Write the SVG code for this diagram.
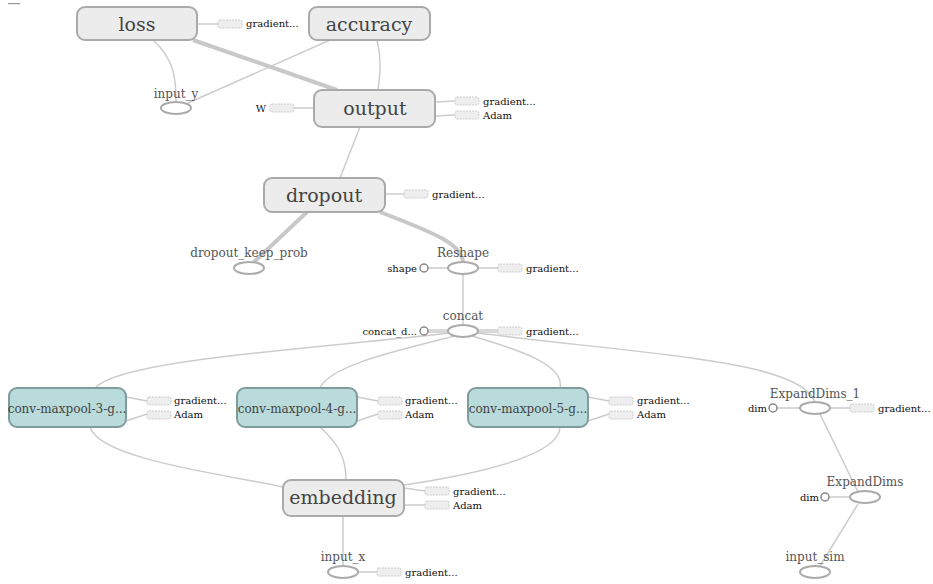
<svg xmlns="http://www.w3.org/2000/svg" width="933" height="584" viewBox="0 0 933 584">
<style>
.n{fill:#ececec;stroke:#aaa;stroke-width:2}
.c{fill:#b9dbdb;stroke:#7f9c9c;stroke-width:2}
.big{font-family:"DejaVu Serif",serif;font-size:19px;fill:#444;text-anchor:middle}
.cv{font-family:"DejaVu Serif",serif;font-size:12px;fill:#444;text-anchor:middle}
.lab{font-family:"DejaVu Serif",serif;font-size:12px;fill:#555;text-anchor:middle}
.sm{font-family:"DejaVu Serif",serif;font-size:10px;fill:#111}
.smr{font-family:"DejaVu Serif",serif;font-size:10px;fill:#111;text-anchor:end}
.el{fill:#fff;stroke:#aaa;stroke-width:2}
.db{fill:#eee;stroke:#ccc;stroke-width:1;stroke-dasharray:2,1}
.ci{fill:#fff;stroke:#888;stroke-width:1.5}
.e{fill:none;stroke:#ccc;stroke-width:1.5}
.t{fill:none;stroke:#c8c8c8;stroke-width:4}
</style>
<rect x="8" y="3" width="12" height="1.2" fill="#999"/>
<g id="connectors">
<path class="e" d="M153,40 C175,60 176,80 176,101"/>
<path class="e" d="M330,40 L188,103"/>
<path class="t" d="M193,40 L337,90"/>
<path class="e" d="M377,40 C382,60 380,75 378,90"/>
<path class="e" d="M360,127 L340,178"/>
<path class="t" d="M307,212 L254,262"/>
<path class="t" d="M380,212 C440,235 462,245 463,262"/>
<path class="e" d="M463,274 L463,325"/>
<path class="e" d="M450,333 C300,350 120,360 95,388"/>
<path class="e" d="M455,336 C400,350 330,365 320,388"/>
<path class="e" d="M472,336 C520,350 565,365 560,388"/>
<path class="e" d="M478,333 C650,355 800,360 815,402"/>
<path class="e" d="M90,427 C100,460 230,475 283,487"/>
<path class="e" d="M320,427 C340,445 346,460 346,480"/>
<path class="e" d="M560,427 C560,460 450,478 404,485"/>
<path class="e" d="M343,516 L343,566"/>
<path class="e" d="M820,414 L858,492"/>
<path class="e" d="M858,504 L820,566"/>
<path class="e" d="M197,24 L218,24"/>
<path class="e" d="M294,108 L314,108"/>
<path class="e" d="M435,102 L455,101 M435,116 L455,115"/>
<path class="e" d="M385,194 L404,194"/>
<path class="e" d="M428,268 L448,268 M478,268 L498,268"/>
<path class="e" d="M428,330 L448,330 M428,332 L448,332 M478,330 L498,330 M478,332 L498,332"/>
<path class="e" d="M126,397 L147,401 M126,421 L147,414"/>
<path class="e" d="M357,397 L378,401 M357,421 L378,414"/>
<path class="e" d="M588,397 L609,401 M588,421 L609,414"/>
<path class="e" d="M404,488 L425,491 M404,505 L425,505"/>
<path class="e" d="M358,572 L377,572"/>
<path class="e" d="M777,408 L800,408 M830,408 L850,408"/>
<path class="e" d="M829,497 L850,497"/>
</g>
<g id="loss"><rect class="n" x="77" y="7" width="120" height="33" rx="8"/><text class="big" x="137" y="31">loss</text>
<rect class="db" x="218" y="20" width="24" height="8" rx="2"/><text class="sm" x="246" y="27">gradient...</text></g>
<g id="accuracy"><rect class="n" x="309" y="7" width="121" height="33" rx="8"/><text class="big" x="369" y="31">accuracy</text></g>
<g id="input_y"><ellipse class="el" cx="176" cy="108" rx="15" ry="6"/><text class="lab" x="176" y="98">input_y</text></g>
<g id="output"><rect class="n" x="314" y="90" width="121" height="37" rx="8"/><text class="big" x="375" y="115">output</text>
<text class="smr" x="266" y="112">W</text><rect class="db" x="270" y="104" width="24" height="8" rx="2"/>
<rect class="db" x="455" y="97" width="24" height="8" rx="2"/><text class="sm" x="483" y="105">gradient...</text>
<rect class="db" x="455" y="111" width="24" height="8" rx="2"/><text class="sm" x="483" y="119">Adam</text></g>
<g id="dropout"><rect class="n" x="264" y="178" width="121" height="34" rx="8"/><text class="big" x="324" y="202">dropout</text>
<rect class="db" x="404" y="190" width="24" height="8" rx="2"/><text class="sm" x="432" y="198">gradient...</text></g>
<g id="dropout_keep_prob"><ellipse class="el" cx="249" cy="268" rx="15" ry="6"/><text class="lab" x="249" y="257">dropout_keep_prob</text></g>
<g id="Reshape"><ellipse class="el" cx="463" cy="268" rx="15" ry="6"/><text class="lab" x="463" y="257">Reshape</text>
<text class="smr" x="417" y="272">shape</text><circle class="ci" cx="424" cy="268" r="4"/>
<rect class="db" x="498" y="264" width="24" height="8" rx="2"/><text class="sm" x="526" y="272">gradient...</text></g>
<g id="concat"><ellipse class="el" cx="463" cy="331" rx="15" ry="6"/><text class="lab" x="463" y="320">concat</text>
<text class="smr" x="417" y="335">concat_d...</text><circle class="ci" cx="424" cy="331" r="4"/>
<rect class="db" x="498" y="327" width="24" height="8" rx="2"/><text class="sm" x="526" y="335">gradient...</text></g>
<g id="conv-maxpool-3"><rect class="c" x="9" y="388" width="117" height="39" rx="8"/><text class="cv" x="67" y="413">conv-maxpool-3-g...</text>
<rect class="db" x="147" y="397" width="24" height="8" rx="2"/><text class="sm" x="174" y="404">gradient...</text>
<rect class="db" x="147" y="411" width="24" height="8" rx="2"/><text class="sm" x="174" y="418">Adam</text></g>
<g id="conv-maxpool-4"><rect class="c" x="237" y="388" width="120" height="39" rx="8"/><text class="cv" x="297" y="413">conv-maxpool-4-g...</text>
<rect class="db" x="378" y="397" width="24" height="8" rx="2"/><text class="sm" x="405" y="404">gradient...</text>
<rect class="db" x="378" y="411" width="24" height="8" rx="2"/><text class="sm" x="405" y="418">Adam</text></g>
<g id="conv-maxpool-5"><rect class="c" x="468" y="388" width="120" height="39" rx="8"/><text class="cv" x="528" y="413">conv-maxpool-5-g...</text>
<rect class="db" x="609" y="397" width="24" height="8" rx="2"/><text class="sm" x="637" y="404">gradient...</text>
<rect class="db" x="609" y="411" width="24" height="8" rx="2"/><text class="sm" x="637" y="418">Adam</text></g>
<g id="embedding"><rect class="n" x="283" y="480" width="121" height="36" rx="8"/><text class="big" x="343" y="504">embedding</text>
<rect class="db" x="425" y="487" width="24" height="8" rx="2"/><text class="sm" x="453" y="495">gradient...</text>
<rect class="db" x="425" y="501" width="24" height="8" rx="2"/><text class="sm" x="453" y="509">Adam</text></g>
<g id="input_x"><ellipse class="el" cx="343" cy="572" rx="15" ry="6"/><text class="lab" x="343" y="561">input_x</text>
<rect class="db" x="377" y="568" width="24" height="8" rx="2"/><text class="sm" x="405" y="576">gradient...</text></g>
<g id="ExpandDims_1"><ellipse class="el" cx="815" cy="408" rx="15" ry="6"/><text class="lab" x="815" y="398">ExpandDims_1</text>
<text class="smr" x="767" y="412">dim</text><circle class="ci" cx="773" cy="408" r="4"/>
<rect class="db" x="850" y="404" width="24" height="8" rx="2"/><text class="sm" x="878" y="412">gradient...</text></g>
<g id="ExpandDims"><ellipse class="el" cx="865" cy="497" rx="15" ry="6"/><text class="lab" x="865" y="486">ExpandDims</text>
<text class="smr" x="819" y="501">dim</text><circle class="ci" cx="825" cy="497" r="4"/></g>
<g id="input_sim"><ellipse class="el" cx="815" cy="572" rx="15" ry="6"/><text class="lab" x="815" y="561">input_sim</text></g>
</svg>
